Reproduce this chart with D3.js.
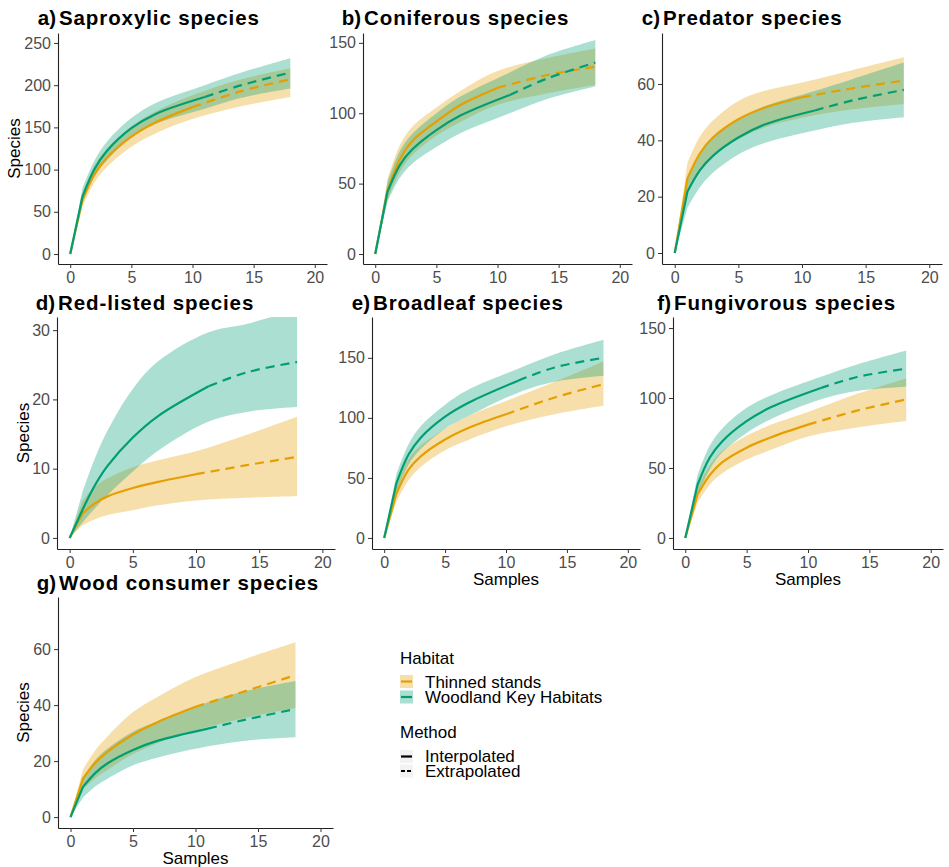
<!DOCTYPE html>
<html>
<head>
<meta charset="utf-8">
<script src="https://cdn.jsdelivr.net/npm/d3@7"></script>
<style>
  body { margin: 0; background: #fff; }
  svg { display: block; font-family: "Liberation Sans", Arial, sans-serif; }
</style>
</head>
<body>
<div id="chart"></div>
<script>
// sample sizes (knots) of the rarefaction / extrapolation curves
const samplesThinned = [0, 1, 2, 3, 5, 7, 10, 14, 18];
const samplesWKH     = [0, 1, 2, 3, 5, 7, 11, 14, 18];
const lastInterp = 6; // index of the observed sample size

const habitats = ["Thinned stands", "Woodland Key Habitats"];
const methods = ["Interpolated", "Extrapolated"];
const colors = ["#E69F00", "#009E73"];
const xTicks = [0, 5, 10, 15, 20];

// a) Saproxylic
const saproxThinned = { est: [0, 64, 95, 114, 139, 156, 174, 193, 207], lo: [0, 56, 85, 103, 127, 143, 160, 175, 186], hi: [0, 72, 105, 125, 151, 169, 188, 207, 220] };
const saproxWKH     = { est: [0, 68, 101, 122, 149, 166, 186, 200, 215], lo: [0, 60, 92, 111, 138, 154, 172, 185, 196], hi: [0, 78, 111, 133, 161, 179, 200, 215, 232] };
// b) Coniferous
const conifThinned = { est: [0, 45, 67, 80, 94, 106, 118, 127, 133], lo: [0, 38, 58, 70, 84, 94, 106, 114, 120], hi: [0, 53, 77, 90, 104, 116, 130, 139, 146] };
const conifWKH     = { est: [0, 44, 63, 74, 88, 98.5, 113, 124.5, 136], lo: [0, 37, 54, 64, 76, 86, 100, 110, 119], hi: [0, 51, 73, 85, 100, 112, 129, 141, 152] };
// c) Predator
const predThinned = { est: [0, 26.5, 35.5, 41, 47.5, 51.5, 55.3, 58.5, 61.2], lo: [0, 21, 29.5, 35, 40.5, 44.5, 48, 51, 52.9], hi: [0, 32, 41.5, 47, 54, 57.5, 60.5, 65, 69.5] };
const predWKH     = { est: [0, 21.8, 29.5, 34.5, 41, 45.5, 50.6, 54.2, 57.9], lo: [0, 16, 23.5, 28.5, 35, 39, 43.5, 46.2, 48.2], hi: [0, 27, 35.5, 41, 47.5, 52, 57.5, 61.8, 67.6] };
// d) Red-listed
const redThinned = { est: [0, 3.5, 5.0, 6.0, 7.2, 8.1, 9.2, 10.5, 11.7], lo: [0, 1.8, 2.7, 3.3, 4.0, 4.7, 5.4, 5.8, 6.0], hi: [0, 5.3, 7.4, 8.6, 10.2, 11.2, 12.5, 14.9, 17.5] };
const redWKH     = { est: [0, 4.0, 7.6, 10.4, 14.5, 17.6, 21.9, 23.9, 25.4], lo: [0, 2.2, 4.3, 6.2, 9.6, 12.6, 16.8, 18.2, 18.9], hi: [0, 6.5, 11.5, 15.5, 21.5, 25.5, 29.7, 30.9, 33] };
// e) Broadleaf
const broadThinned = { est: [0, 37, 57, 68, 82, 92, 103, 117, 128], lo: [0, 30, 48, 59, 73, 82, 93, 103, 110], hi: [0, 44, 66, 77, 91, 102, 114, 130, 147] };
const broadWKH     = { est: [0, 45.5, 69.5, 83.5, 101, 113, 131, 142, 150], lo: [0, 38, 61, 74, 91, 102, 121, 130, 135], hi: [0, 53, 78, 93, 111, 124, 141, 153, 165] };
// f) Fungivorous
const fungThinned = { est: [0, 31, 45, 54, 64.5, 72, 81, 91, 99], lo: [0, 25, 38, 46, 56, 63, 72.5, 79, 83.6], hi: [0, 37, 52, 62, 73, 81, 90, 103, 114] };
const fungWKH     = { est: [0, 38, 57.5, 69, 83.5, 93.5, 107, 115, 121], lo: [0, 31, 49, 61, 75, 85, 99, 105, 108], hi: [0, 45, 66, 78, 93, 102, 115, 124, 134] };
// g) Wood consumer
const woodThinned = { est: [0, 13.8, 19.5, 23.5, 29.5, 34, 39.4, 45, 50.7], lo: [0, 10, 14, 17, 22.5, 26.5, 31, 35.5, 39], hi: [0, 17, 24, 29, 37.5, 43, 50, 56.5, 62.4] };
const woodWKH     = { est: [0, 10.8, 15.8, 19.3, 24, 27.3, 31.6, 34.8, 38.6], lo: [0, 7, 11, 13.8, 18.5, 21.3, 25.3, 27.3, 28.5], hi: [0, 14, 20.5, 24.6, 30.5, 34.2, 41, 45, 48.6] };

const panels = [
  { tag: "a)", title: "Saproxylic species", th: saproxThinned, wk: saproxWKH, yTicks: [0, 50, 100, 150, 200, 250], yDomain: [-11.8, 261.8],
    box: { l: 58, r: 327, t: 33, b: 264 }, titleY: 25, yLabX: 20, xLab: false },
  { tag: "b)", title: "Coniferous species", th: conifThinned, wk: conifWKH, yTicks: [0, 50, 100, 150], yDomain: [-7.1, 157],
    box: { l: 363, r: 632, t: 33, b: 264 }, titleY: 25, yLabX: null, xLab: false },
  { tag: "c)", title: "Predator species", th: predThinned, wk: predWKH, yTicks: [0, 20, 40, 60], yDomain: [-3.9, 78.1],
    box: { l: 662, r: 942, t: 33, b: 264 }, titleY: 25, yLabX: null, xLab: false },
  { tag: "d)", title: "Red-listed species", th: redThinned, wk: redWKH, yTicks: [0, 10, 20, 30], yDomain: [-1.6, 31.9],
    box: { l: 57, r: 335, t: 317, b: 549 }, titleY: 310, yLabX: 29, xLab: false },
  { tag: "e)", title: "Broadleaf species", th: broadThinned, wk: broadWKH, yTicks: [0, 50, 100, 150], yDomain: [-9.2, 184],
    box: { l: 372, r: 640, t: 317, b: 549 }, titleY: 310, yLabX: null, xLab: true },
  { tag: "f)", title: "Fungivorous species", th: fungThinned, wk: fungWKH, yTicks: [0, 50, 100, 150], yDomain: [-7.9, 157.9],
    box: { l: 673, r: 943, t: 317, b: 549 }, titleY: 310, yLabX: null, xLab: true },
  { tag: "g)", title: "Wood consumer species", th: woodThinned, wk: woodWKH, yTicks: [0, 20, 40, 60], yDomain: [-3.9, 78.6],
    box: { l: 58, r: 333, t: 597, b: 828 }, titleY: 590, yLabX: 29, xLab: true }
];

const width = 949, height = 867;
const svg = d3.select("#chart").append("svg")
  .attr("width", width)
  .attr("height", height);

panels.forEach((p, pi) => drawPanel(p, pi));

function drawPanel(p, pi) {
  const b = p.box;
  const g = svg.append("g");
  const x = d3.scaleLinear().domain([-1, 21]).range([b.l, b.r]);
  const y = d3.scaleLinear().domain(p.yDomain).range([b.b, b.t]);

  const clipId = "clip" + pi;
  g.append("clipPath").attr("id", clipId)
    .append("rect").attr("x", b.l).attr("y", b.t).attr("width", b.r - b.l).attr("height", b.b - b.t);

  const series = [
    { d: p.th, s: samplesThinned, color: colors[0] },
    { d: p.wk, s: samplesWKH, color: colors[1] }
  ].map(o => ({ color: o.color, pts: o.s.map((s, i) => ({ s, est: o.d.est[i], lo: o.d.lo[i], hi: o.d.hi[i] })) }));

  const curve = d3.curveCatmullRom.alpha(0.5);
  const area = d3.area().curve(curve)
    .x(d => x(d.s)).y0(d => y(d.lo)).y1(d => y(d.hi));
  const line = d3.line().curve(curve)
    .x(d => x(d.s)).y(d => y(d.est));

  const plot = g.append("g").attr("clip-path", `url(#${clipId})`);

  // confidence bands (straight from the origin to the first sample)
  series.forEach(se => {
    const o = se.pts[0];
    const path = area(se.pts.slice(1)).slice(0, -1) + `L${x(o.s)},${y(o.est)}Z`;
    plot.append("path").attr("d", path)
      .attr("fill", se.color).attr("fill-opacity", 0.33);
  });

  // curves
  series.forEach(se => {
    const o = se.pts[0];
    const solid = `M${x(o.s)},${y(o.est)}L` + line(se.pts.slice(1, lastInterp + 1)).slice(1);
    plot.append("path").attr("d", solid)
      .attr("fill", "none").attr("stroke", se.color).attr("stroke-width", 2.2);
    plot.append("path").attr("d", line(se.pts.slice(lastInterp)))
      .attr("fill", "none").attr("stroke", se.color).attr("stroke-width", 2.2)
      .attr("stroke-dasharray", "9,6");
  });

  // axes
  const yAxis = g.append("g")
    .attr("transform", `translate(${b.l},0)`)
    .call(d3.axisLeft(y).tickValues(p.yTicks).tickSize(4).tickSizeOuter(0).tickPadding(3));
  const xAxis = g.append("g")
    .attr("transform", `translate(0,${b.b})`)
    .call(d3.axisBottom(x).tickValues(xTicks).tickSize(4).tickSizeOuter(0).tickPadding(4));
  [yAxis, xAxis].forEach(ax => {
    ax.select(".domain").attr("stroke", "#222").attr("stroke-width", 1.1);
    ax.selectAll(".tick line").attr("stroke", "#333");
    ax.selectAll(".tick text").attr("fill", "#4d4d4d")
      .style("font-size", "16px").style("font-family", "'Liberation Sans', Arial, sans-serif");
  });

  // titles
  g.append("text").attr("x", b.l - 2).attr("y", p.titleY)
    .attr("text-anchor", "end").attr("font-weight", "bold").attr("font-size", 20.5)
    .text(p.tag);
  g.append("text").attr("x", b.l + 1).attr("y", p.titleY)
    .attr("font-weight", "bold").attr("font-size", 20.5).attr("letter-spacing", "0.9px")
    .text(p.title);

  if (p.yLabX !== null) {
    g.append("text")
      .attr("transform", `translate(${p.yLabX},${(b.t + b.b) / 2}) rotate(-90)`)
      .attr("text-anchor", "middle").attr("font-size", 17)
      .text("Species");
  }
  if (p.xLab) {
    g.append("text").attr("x", (b.l + b.r) / 2).attr("y", b.b + 35.5)
      .attr("text-anchor", "middle").attr("font-size", 17)
      .text("Samples");
  }
}

// legend
const legend = svg.append("g").attr("font-size", 17);
legend.append("text").attr("x", 400).attr("y", 664).text("Habitat");
habitats.forEach((h, i) => {
  const ky = 675 + i * 15.5;
  legend.append("rect").attr("x", 400).attr("y", ky).attr("width", 13).attr("height", 13)
    .attr("fill", colors[i]).attr("fill-opacity", 0.33);
  legend.append("line").attr("x1", 401).attr("x2", 412).attr("y1", ky + 6.5).attr("y2", ky + 6.5)
    .attr("stroke", colors[i]).attr("stroke-width", 2.2);
  legend.append("text").attr("x", 425).attr("y", ky + 12.5).text(h);
});
legend.append("text").attr("x", 400).attr("y", 738).text("Method");
methods.forEach((m, i) => {
  const ky = 750 + i * 14.5;
  legend.append("rect").attr("x", 400).attr("y", ky).attr("width", 13).attr("height", 13)
    .attr("fill", "#f2f2f2");
  legend.append("line").attr("x1", 401).attr("x2", 412).attr("y1", ky + 6.5).attr("y2", ky + 6.5)
    .attr("stroke", "#000").attr("stroke-width", 2.2)
    .attr("stroke-dasharray", i === 0 ? null : "4,2");
  legend.append("text").attr("x", 425).attr("y", ky + 12).text(m);
});
</script>
</body>
</html>
